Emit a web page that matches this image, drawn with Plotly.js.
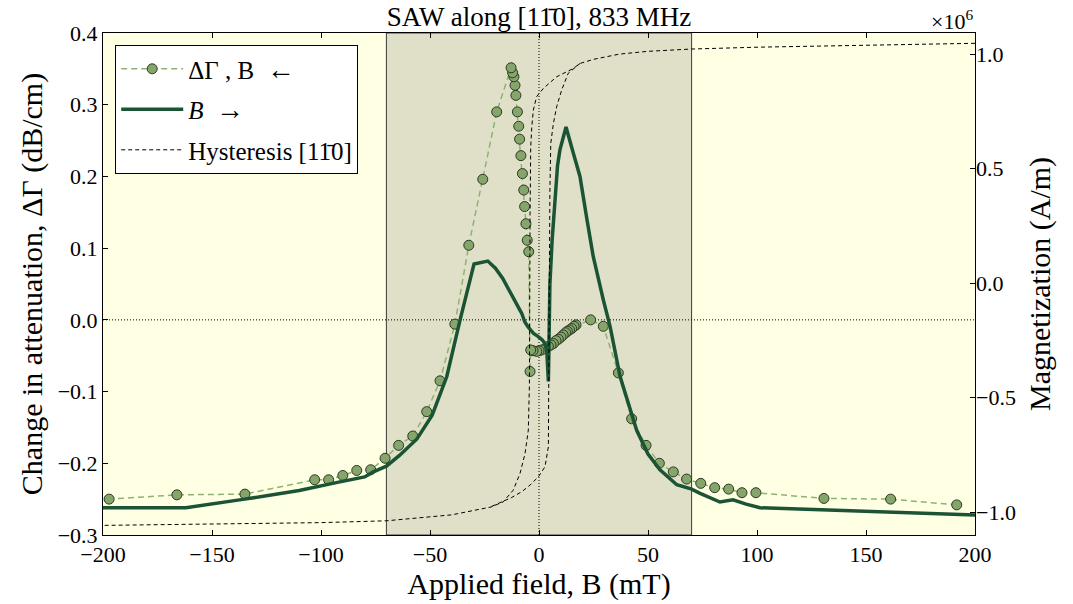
<!DOCTYPE html>
<html>
<head>
<meta charset="utf-8">
<script src="https://cdn.plot.ly/plotly-3.0.1.min.js"></script>
<style>html,body{margin:0;padding:0;background:#fff;}#chart{width:1073px;height:604px;}</style>
</head>
<body>
<div id="chart"></div>
<script>
// ΔΓ, B ← (field swept downwards)
var downB = [191.6,161.3,130.7,99.5,93.1,87.0,80.6,74.2,67.7,61.6,55.2,49.1,42.5,36.4,29.5,23.7,
  17.0,16.1,15.0,14.0,13.0,12.2,11.1,10.1,8.9,7.8,6.6,5.5,4.3,2.75,1.2,0,-1.05,-2.75,-3.8,-4.1,
  -4.7,-5.4,-6.0,-6.6,-7.0,-7.6,-8.3,-8.9,-9.3,-9.9,-10.6,-11.0,-11.5,-12.1,-12.8,
  -19.4,-25.8,-32.2,-38.6,-45.4,-51.5,-57.9,-64.4,-70.6,-77.2,-83.6,-90.0,-96.5,-102.9,-134.9,-166.1,-197.2];
var downDG = [-0.258,-0.250,-0.249,-0.241,-0.241,-0.236,-0.234,-0.228,-0.222,-0.212,-0.200,-0.175,-0.138,-0.074,-0.009,0.000,
  -0.007,-0.009,-0.012,-0.014,-0.016,-0.018,-0.021,-0.024,-0.027,-0.029,-0.033,-0.035,-0.037,-0.040,-0.042,-0.043,-0.044,-0.043,-0.042,-0.072,
  0.095,0.111,0.134,0.158,0.181,0.204,0.229,0.252,0.270,0.290,0.313,0.327,0.339,0.3445,0.3515,
  0.290,0.196,0.104,-0.006,-0.085,-0.128,-0.162,-0.175,-0.193,-0.209,-0.210,-0.217,-0.223,-0.223,-0.243,-0.244,-0.250];

// ΔΓ, B → (field swept upwards)
var upB = [-200,-162,-135,-110,-93,-80,-76,-70,-64,-56,-49,-42.3,-36.2,-29.8,-23.5,-20,-16.7,-14.5,-13.5,-11.8,-10.5,-9,-7.9,-6.5,-5,-4,-2.5,-0.5,1.5,2.75,3.6,4.3,4.7,5.0,6.0,7.0,8.5,9.6,12.4,15.5,18.8,22,24.9,29.5,32.6,37.2,40.2,44.8,50,55.5,63.2,70,73.9,78,83,89,95,101.4,150,200];
var upDG = [-0.262,-0.262,-0.250,-0.238,-0.227,-0.219,-0.212,-0.204,-0.189,-0.166,-0.133,-0.079,0.000,0.078,0.082,0.072,0.058,0.045,0.040,0.030,0.022,0.015,0.009,-0.003,-0.010,-0.014,-0.019,-0.023,-0.028,-0.033,-0.045,-0.086,-0.020,0.050,0.110,0.160,0.215,0.237,0.269,0.235,0.200,0.140,0.088,0.028,-0.009,-0.079,-0.109,-0.154,-0.187,-0.209,-0.230,-0.236,-0.242,-0.248,-0.254,-0.251,-0.257,-0.262,-0.267,-0.272];

// Hysteresis loop [1-10], magnetization in units of 1e6 A/m
var hystB = [200,150,100,70,50,37,25,18.8,15.7,8.1,2.0,-1.1,-2.6,-3.3,-3.8,-4.1,-4.3,-4.4,-4.9,-6.4,-8.7,-11.8,-16.4,-21.7,-40,-70,-100,-150,-200,
  null,
  -21.7,-16.4,-12.5,-7.9,-4.1,-0.3,2.75,4.3,4.4,4.6,5.0,5.4,6.6,8.1,10.4,13.4,18.8];
var hystM = [1.047,1.040,1.030,1.022,1.012,1.000,0.977,0.959,0.937,0.901,0.850,0.814,0.755,0.683,0.595,0.300,0.000,-0.445,-0.642,-0.744,-0.831,-0.904,-0.955,-0.977,-1.012,-1.038,-1.046,-1.053,-1.058,
  null,
  -0.975,-0.951,-0.936,-0.911,-0.882,-0.846,-0.802,-0.715,-0.467,0.000,0.400,0.610,0.697,0.770,0.843,0.916,0.959];

var xTicks = [-200,-150,-100,-50,0,50,100,150,200];
var yTicks = [-0.3,-0.2,-0.1,0.0,0.1,0.2,0.3,0.4];
var y2Ticks = [-1.0,-0.5,0.0,0.5,1.0];
var y2Text = ['\u22121.0','\u22120.5','0.0','0.5','1.0'];

var FONT = 'Liberation Serif, DejaVu Serif, serif';

var traces = [
  {x: downB, y: downDG, type: 'scatter', mode: 'lines+markers', name: '\u0394\u0393 , B \u00a0<span style="font-size:28px">\u2190</span>',
   legendgroup: 'a',
   line: {color: '#8fb274', width: 1.5, dash: '6px,4px'},
   marker: {size: 10, color: '#86a56a', line: {color: '#2a3a24', width: 1}}},
  {x: upB, y: upDG, type: 'scatter', mode: 'lines', name: '<i>B</i> \u00a0<span style="font-size:28px">\u2192</span>',
   legendgroup: 'b',
   line: {color: '#1a5434', width: 3.5}},
  {x: hystB, y: hystM, type: 'scatter', mode: 'lines', name: 'Hysteresis [11\u03040]',
   legendgroup: 'c', yaxis: 'y2', connectgaps: false,
   line: {color: '#000', width: 1, dash: '4px,3px'}}
];

var layout = {
  width: 1073, height: 604,
  margin: {l: 103, r: 98, t: 33, b: 69},
  paper_bgcolor: '#ffffff',
  plot_bgcolor: '#ffffe3',
  font: {family: FONT, color: '#000', size: 22},
  title: {text: 'SAW along [11\u03040], 833 MHz', font: {family: FONT, size: 27, color: '#000'},
          x: 0.5, xref: 'paper', xanchor: 'center', y: 1 - 17/604, yanchor: 'middle', yref: 'container'},
  showlegend: true,
  legend: {x: 0.014, y: 0.976, xanchor: 'left', yanchor: 'top', bgcolor: '#ffffff',
           bordercolor: '#000', borderwidth: 1, font: {family: FONT, size: 25},
           traceorder: 'grouped', tracegroupgap: 5, itemwidth: 62},
  xaxis: {range: [-200, 200], tickvals: xTicks, ticks: 'inside', ticklen: 5, tickcolor: '#000',
          mirror: 'ticks', showline: true, linecolor: '#000', linewidth: 1,
          showgrid: false, zeroline: false, tickfont: {family: FONT, size: 22},
          title: {text: 'Applied field, B (mT)', font: {family: FONT, size: 30}, standoff: 4}},
  yaxis: {range: [-0.3, 0.4], tickvals: yTicks, tickformat: '.1f', ticks: 'inside', ticklen: 5, tickcolor: '#000',
          mirror: true, showline: true, linecolor: '#000', linewidth: 1,
          showgrid: false, zeroline: false, tickfont: {family: FONT, size: 22},
          title: {text: 'Change in attenuation, \u0394\u0393 (dB/cm)', font: {family: FONT, size: 30}, standoff: 6}},
  yaxis2: {range: [-1.100, 1.092], overlaying: 'y', side: 'right', tickvals: y2Ticks, ticktext: y2Text,
           ticks: 'inside', ticklen: 5, tickcolor: '#000', showgrid: false, zeroline: false,
           showline: false, tickfont: {family: FONT, size: 22},
           title: {text: 'Magnetization (A/m)', font: {family: FONT, size: 30}, standoff: 14}},
  shapes: [
    {type: 'rect', xref: 'x', yref: 'paper', x0: -70, x1: 70, y0: 0, y1: 1, layer: 'below',
     fillcolor: '#e0e0c8', line: {color: '#3a3a3a', width: 1}},
    {type: 'line', xref: 'paper', yref: 'y', x0: 0, x1: 1, y0: 0, y1: 0, layer: 'below',
     line: {color: '#000', width: 1, dash: '1px,2px'}},
    {type: 'line', xref: 'x', yref: 'paper', x0: 0, x1: 0, y0: 0, y1: 1, layer: 'below',
     line: {color: '#000', width: 1, dash: '1px,2px'}}
  ],
  annotations: [
    {text: '\u00d710<sup>6</sup>', xref: 'paper', yref: 'paper', x: 1.0, y: 1.0, xanchor: 'right', yanchor: 'bottom',
     showarrow: false, font: {family: FONT, size: 22}, yshift: -3}
  ]
};

Plotly.newPlot('chart', traces, layout, {displayModeBar: false, staticPlot: true});
</script>
</body>
</html>
